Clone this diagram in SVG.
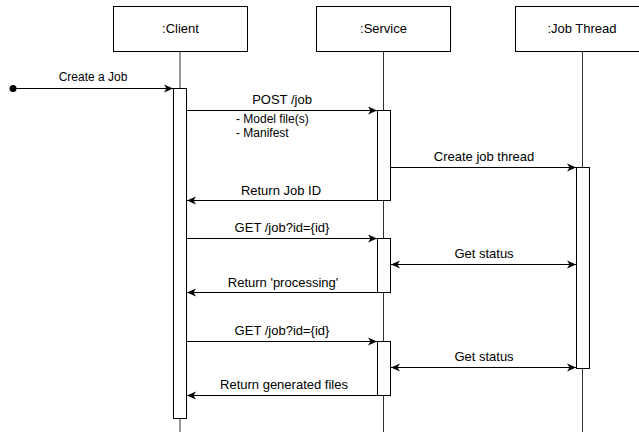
<svg xmlns="http://www.w3.org/2000/svg" width="639" height="432" viewBox="0 0 639 432">
<defs>
<marker id="arr" markerUnits="userSpaceOnUse" markerWidth="12" markerHeight="10" refX="10" refY="5" orient="auto-start-reverse">
<path d="M1,1 L10,5 L1,9 L3.5,5 Z" fill="#000"/>
</marker>
<style>
.box{fill:#fff;stroke:#000;stroke-width:1}
.life{stroke:#333;stroke-width:1;fill:none}
.act{fill:#fff;stroke:#000;stroke-width:1}
.msg{stroke:#000;stroke-width:1;fill:none;marker-end:url(#arr)}
.both{marker-start:url(#arr)}
text{font-family:"Liberation Sans",Arial,Helvetica,sans-serif;fill:#000}
.t13{font-size:13px;text-anchor:middle}
.t12{font-size:12px;text-anchor:middle}
.t11{font-size:12px}
</style>
</defs>
<g id="lifelines">
<line class="life" x1="180" y1="51" x2="180" y2="432"/>
<line class="life" x1="383.5" y1="51" x2="383.5" y2="432"/>
<line class="life" x1="582.5" y1="51" x2="582.5" y2="432"/>
</g>
<g id="client">
<rect class="box" x="113.5" y="6.5" width="134" height="45"/>
<text class="t13" x="180.5" y="33">:Client</text>
</g>
<g id="service">
<rect class="box" x="316.5" y="6.5" width="134" height="45"/>
<text class="t13" x="383.5" y="33">:Service</text>
</g>
<g id="jobthread">
<rect class="box" x="515.5" y="6.5" width="134" height="45"/>
<text class="t13" x="582" y="33">:Job Thread</text>
</g>
<g id="activations">
<rect id="act-client" class="act" x="173.5" y="88.5" width="13" height="330"/>
<rect id="act-service-1" class="act" x="377.5" y="110.5" width="13" height="90"/>
<rect id="act-service-2" class="act" x="377.5" y="238.5" width="13" height="54"/>
<rect id="act-service-3" class="act" x="377.5" y="341.5" width="13" height="54"/>
<rect id="act-job" class="act" x="576.5" y="167.5" width="13" height="201"/>
</g>
<g id="connectors">
<circle cx="13" cy="88.5" r="3.5" fill="#000"/>
<line class="msg" x1="13" y1="88.5" x2="173" y2="88.5"/>
<line class="msg" x1="187" y1="110.5" x2="377" y2="110.5"/>
<line class="msg" x1="391" y1="167.5" x2="576" y2="167.5"/>
<line class="msg" x1="377" y1="200.5" x2="187" y2="200.5"/>
<line class="msg" x1="187" y1="238.5" x2="377" y2="238.5"/>
<line class="msg both" x1="391" y1="264.5" x2="576" y2="264.5"/>
<line class="msg" x1="377" y1="292.5" x2="187" y2="292.5"/>
<line class="msg" x1="187" y1="341.5" x2="377" y2="341.5"/>
<line class="msg both" x1="391" y1="367.5" x2="576" y2="367.5"/>
<line class="msg" x1="377" y1="395.5" x2="187" y2="395.5"/>
</g>
<g id="labels">
<text class="t12" x="93" y="81">Create a Job</text>
<text class="t13" x="282" y="104">POST /job</text>
<text class="t11" x="236" y="123">- Model file(s)</text>
<text class="t11" x="236" y="137">- Manifest</text>
<text class="t13" x="484" y="161">Create job thread</text>
<text class="t13" x="281" y="195">Return Job ID</text>
<text class="t13" x="282" y="232">GET /job?id={id}</text>
<text class="t13" x="484" y="258">Get status</text>
<text class="t13" x="283" y="287">Return 'processing'</text>
<text class="t13" x="282" y="335">GET /job?id={id}</text>
<text class="t13" x="484" y="361">Get status</text>
<text class="t13" x="284" y="389">Return generated files</text>
</g>
</svg>
